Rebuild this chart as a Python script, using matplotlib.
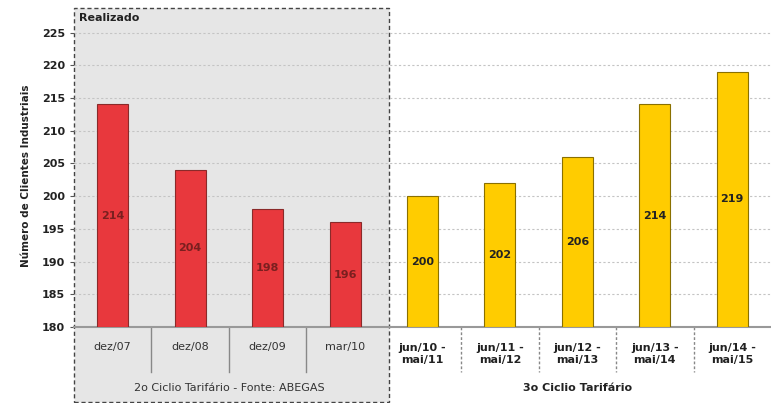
import numpy as np
import matplotlib.pyplot as plt
import matplotlib.patches as patches

# Industrial customers: realized (2nd tariff cycle) and projected (3rd cycle)
realized_labels = ['dez/07', 'dez/08', 'dez/09', 'mar/10']
realized_values = [214, 204, 198, 196]
projected_labels = ['jun/10 -\nmai/11', 'jun/11 -\nmai/12', 'jun/12 -\nmai/13',
                    'jun/13 -\nmai/14', 'jun/14 -\nmai/15']
projected_values = [200, 202, 206, 214, 219]
y_ticks = [180, 185, 190, 195, 200, 205, 210, 215, 220, 225]

W, H = 771, 403
fig = plt.figure(figsize=(W / 100, H / 100), dpi=100)
fig.patch.set_facecolor('white')

# shaded box for the realized period (drawn behind the axes)
box = patches.Rectangle((74 / W, 1 - 402 / H), (389 - 74) / W, (402 - 8) / H,
                        transform=fig.transFigure, facecolor='#e6e6e6',
                        edgecolor='#444444', linestyle=(0, (3, 2)), linewidth=1.0,
                        zorder=-1)
fig.patches.append(box)
fig.text(79 / W, 1 - 18 / H, 'Realizado', fontsize=8, fontweight='bold',
         va='center', ha='left', color='#222222')

ax = fig.add_axes([74 / W, 1 - 327 / H, (W - 74) / W, (327 - 24) / H])
ax.patch.set_alpha(0)

n_real = len(realized_values)
n_all = n_real + len(projected_values)
x_real = np.arange(n_real)
x_proj = np.arange(n_real, n_all)
bar_w = 0.4

ax.bar(x_real, [v - 180 for v in realized_values], bottom=180, width=bar_w,
       color='#e8383d', edgecolor='#8a2a2a', linewidth=0.8, zorder=3)
ax.bar(x_proj, [v - 180 for v in projected_values], bottom=180, width=bar_w,
       color='#ffcc00', edgecolor='#8a7000', linewidth=0.8, zorder=3)

for x, v in zip(x_real, realized_values):
    ax.text(x, (180 + v) / 2, str(v), ha='center', va='center', fontsize=8,
            fontweight='bold', color='#7a1f1f', zorder=4)
for x, v in zip(x_proj, projected_values):
    ax.text(x, (180 + v) / 2, str(v), ha='center', va='center', fontsize=8,
            fontweight='bold', color='#222222', zorder=4)

ax.set_xlim(-0.5, n_all - 0.5)
ax.set_ylim(180, 226.3)
ax.set_yticks(y_ticks)
ax.tick_params(axis='y', labelsize=8, length=3, color='#555555', labelcolor='#222222')
for lbl in ax.get_yticklabels():
    lbl.set_fontweight('bold')
ax.set_xticks([])
for y in y_ticks[1:]:
    ax.axhline(y, color='#c4c4c4', linestyle=(0, (2, 2)), linewidth=0.8, zorder=1)

for s in ['top', 'right', 'left']:
    ax.spines[s].set_visible(False)
ax.spines['bottom'].set_color('#999999')
ax.spines['bottom'].set_linewidth(1.5)

ax.set_ylabel('Número de Clientes Industriais', fontsize=7.5, fontweight='bold',
              color='#222222', labelpad=8)

# category labels and dividers below the axis
trans = ax.get_xaxis_transform()
for x, lab in zip(x_real, realized_labels):
    ax.text(x, -0.065, lab, transform=trans, ha='center', va='center',
            fontsize=8, color='#333333', clip_on=False)
for x, lab in zip(x_proj, projected_labels):
    ax.text(x, -0.09, lab, transform=trans, ha='center', va='center',
            fontsize=8, fontweight='bold', color='#222222', clip_on=False)
for b in np.arange(0.5, n_all - 1, 1.0):
    if b == n_real - 0.5:
        continue
    style = '-' if b < n_real else (0, (2, 1.5))
    ax.plot([b, b], [0, -0.15], transform=trans, color='#888888',
            linestyle=style, linewidth=1.0, clip_on=False)

ax.text((n_real - 1) / 2, -0.2, '2o Ciclio Tarifário - Fonte: ABEGAS',
        transform=trans, ha='center', va='center', fontsize=8, color='#333333',
        clip_on=False)
ax.text(n_real + (len(projected_values) - 1) / 2, -0.2, '3o Ciclio Tarifário',
        transform=trans, ha='center', va='center', fontsize=8, fontweight='bold',
        color='#222222', clip_on=False)

fig.savefig('out.png', dpi=100)
